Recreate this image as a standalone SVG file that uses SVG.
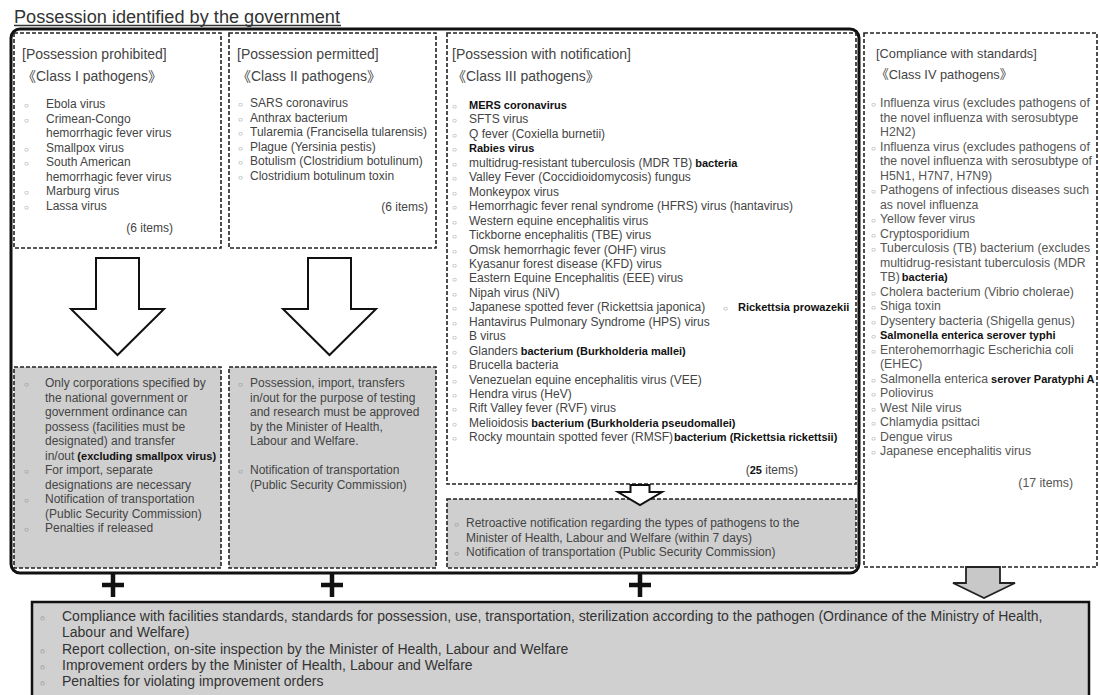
<svg xmlns="http://www.w3.org/2000/svg" width="1100" height="695" viewBox="0 0 1100 695">
<style>
text{font-family:"Liberation Sans","Noto Sans CJK JP",Arial,sans-serif}
.ttl{font-size:17.5px;fill:#333}
.hdr{font-size:14px;fill:#444}
.hdr4{font-size:12.8px;fill:#444}
.it{font-size:12px;fill:#444}
.it4{font-size:12.3px;fill:#555}
.b{font-weight:bold;font-size:11px;fill:#111}
.bul{font-size:8px;fill:#777}
.dash{fill:none;stroke:#222;stroke-width:1.6;stroke-dasharray:4 2}
.grayfill{fill:#cfcfcf}
.arw{fill:#fff;stroke:#111;stroke-width:2;stroke-linejoin:miter}
.plus{stroke:#111;stroke-width:4.5;fill:none}
.bt{font-size:14px;fill:#333}
</style>
<rect width="1100" height="695" fill="#fff"/>

<g id="title">
<text class="ttl" x="14" y="23" textLength="326" lengthAdjust="spacingAndGlyphs">Possession identified by the government</text>
<line x1="14" y1="25.5" x2="341" y2="25.5" stroke="#333" stroke-width="1.3"/>
</g>

<g id="outer-frame">
<rect x="11" y="29" width="848" height="544" rx="9" fill="none" stroke="#111" stroke-width="3"/>
</g>

<g id="class1">
<rect class="dash" x="14" y="33" width="207" height="215"/>
<text class="hdr" x="22" y="59">[Possession prohibited]</text>
<text class="hdr" x="22" y="81">《Class I pathogens》</text>
<text class="bul"><tspan x="24" y="108">○</tspan><tspan x="24" y="122.5">○</tspan><tspan x="24" y="151.5">○</tspan><tspan x="24" y="166">○</tspan><tspan x="24" y="195">○</tspan><tspan x="24" y="209.5">○</tspan></text>
<text class="it"><tspan x="46" y="108">Ebola virus</tspan><tspan x="46" y="122.5">Crimean-Congo</tspan><tspan x="46" y="137">hemorrhagic fever virus</tspan><tspan x="46" y="151.5">Smallpox virus</tspan><tspan x="46" y="166">South American</tspan><tspan x="46" y="180.5">hemorrhagic fever virus</tspan><tspan x="46" y="195">Marburg virus</tspan><tspan x="46" y="209.5">Lassa virus</tspan></text>
<text class="it" x="173" y="232" text-anchor="end">(6 items)</text>
</g>

<g id="class2">
<rect class="dash" x="229" y="33" width="207" height="215"/>
<text class="hdr" x="237" y="59">[Possession permitted]</text>
<text class="hdr" x="237" y="81">《Class II pathogens》</text>
<text class="bul"><tspan x="238" y="107">○</tspan><tspan x="238" y="121.5">○</tspan><tspan x="238" y="136">○</tspan><tspan x="238" y="150.5">○</tspan><tspan x="238" y="165">○</tspan><tspan x="238" y="179.5">○</tspan></text>
<text class="it"><tspan x="250" y="107">SARS coronavirus</tspan><tspan x="250" y="121.5">Anthrax bacterium</tspan><tspan x="250" y="136">Tularemia (Francisella tularensis)</tspan><tspan x="250" y="150.5">Plague (Yersinia pestis)</tspan><tspan x="250" y="165">Botulism (Clostridium botulinum)</tspan><tspan x="250" y="179.5">Clostridium botulinum toxin</tspan></text>
<text class="it" x="428" y="211" text-anchor="end">(6 items)</text>
</g>

<g id="class3">
<rect class="dash" x="447" y="33" width="409" height="451"/>
<text class="hdr" x="452" y="59">[Possession with notification]</text>
<text class="hdr" x="452" y="81">《Class III pathogens》</text>
<text class="bul"><tspan x="452" y="109">○</tspan><tspan x="452" y="123.45">○</tspan><tspan x="452" y="137.9">○</tspan><tspan x="452" y="152.35">○</tspan><tspan x="452" y="166.8">○</tspan><tspan x="452" y="181.25">○</tspan><tspan x="452" y="195.7">○</tspan><tspan x="452" y="210.15">○</tspan><tspan x="452" y="224.6">○</tspan><tspan x="452" y="239.05">○</tspan><tspan x="452" y="253.5">○</tspan><tspan x="452" y="267.95">○</tspan><tspan x="452" y="282.4">○</tspan><tspan x="452" y="296.85">○</tspan><tspan x="452" y="311.3">○</tspan><tspan x="452" y="325.75">○</tspan><tspan x="452" y="340.2">○</tspan><tspan x="452" y="354.65">○</tspan><tspan x="452" y="369.1">○</tspan><tspan x="452" y="383.55">○</tspan><tspan x="452" y="398">○</tspan><tspan x="452" y="412.45">○</tspan><tspan x="452" y="426.9">○</tspan><tspan x="452" y="441.35">○</tspan></text>
<text class="b" x="469" y="109">MERS coronavirus</text>
<text class="it" x="469" y="123.45">SFTS virus</text>
<text class="it" x="469" y="137.9">Q fever (Coxiella burnetii)</text>
<text class="b" x="469" y="152.35">Rabies virus</text>
<text class="it" x="469" y="166.8">multidrug-resistant tuberculosis (MDR TB)<tspan class="b" dx="3">bacteria</tspan></text>
<text class="it" x="469" y="181.25">Valley Fever (Coccidioidomycosis) fungus</text>
<text class="it" x="469" y="195.7">Monkeypox virus</text>
<text class="it" x="469" y="210.15">Hemorrhagic fever renal syndrome (HFRS) virus (hantavirus)</text>
<text class="it" x="469" y="224.6">Western equine encephalitis virus</text>
<text class="it" x="469" y="239.05">Tickborne encephalitis (TBE) virus</text>
<text class="it" x="469" y="253.5">Omsk hemorrhagic fever (OHF) virus</text>
<text class="it" x="469" y="267.95">Kyasanur forest disease (KFD) virus</text>
<text class="it" x="469" y="282.4">Eastern Equine Encephalitis (EEE) virus</text>
<text class="it" x="469" y="296.85">Nipah virus (NiV)</text>
<text class="it" x="469" y="311.3">Japanese spotted fever (Rickettsia japonica)</text>
<text class="bul" x="723" y="311.3">○</text>
<text class="b" x="738" y="311.3">Rickettsia prowazekii</text>
<text class="it" x="469" y="325.75">Hantavirus Pulmonary Syndrome (HPS) virus</text>
<text class="it" x="469" y="340.2">B virus</text>
<text class="it" x="469" y="354.65">Glanders<tspan class="b" dx="3">bacterium (Burkholderia mallei)</tspan></text>
<text class="it" x="469" y="369.1">Brucella bacteria</text>
<text class="it" x="469" y="383.55">Venezuelan equine encephalitis virus (VEE)</text>
<text class="it" x="469" y="398">Hendra virus (HeV)</text>
<text class="it" x="469" y="412.45">Rift Valley fever (RVF) virus</text>
<text class="it" x="469" y="426.9">Melioidosis<tspan class="b" dx="3">bacterium (Burkholderia pseudomallei)</tspan></text>
<text class="it" x="469" y="441.35">Rocky mountain spotted fever (RMSF)<tspan class="b" dx="1">bacterium (Rickettsia rickettsii)</tspan></text>
<text class="it" x="798" y="474" text-anchor="end">(<tspan class="b">25</tspan> items)</text>
</g>

<g id="class4">
<rect class="dash" x="864" y="33" width="233" height="534"/>
<text class="hdr4" x="876" y="58">[Compliance with standards]</text>
<text class="hdr4" x="876" y="79">《Class IV pathogens》</text>
<text class="bul"><tspan x="871" y="107">○</tspan><tspan x="871" y="150.5">○</tspan><tspan x="871" y="194">○</tspan><tspan x="871" y="223">○</tspan><tspan x="871" y="237.5">○</tspan><tspan x="871" y="252">○</tspan><tspan x="871" y="295.5">○</tspan><tspan x="871" y="310">○</tspan><tspan x="871" y="324.5">○</tspan><tspan x="871" y="339">○</tspan><tspan x="871" y="353.5">○</tspan><tspan x="871" y="382.5">○</tspan><tspan x="871" y="397">○</tspan><tspan x="871" y="411.5">○</tspan><tspan x="871" y="426">○</tspan><tspan x="871" y="440.5">○</tspan><tspan x="871" y="455">○</tspan></text>
<text class="it4"><tspan x="880" y="107">Influenza virus (excludes pathogens of</tspan><tspan x="880" y="121.5">the novel influenza  with serosubtype</tspan><tspan x="880" y="136">H2N2)</tspan><tspan x="880" y="150.5">Influenza virus (excludes pathogens of</tspan><tspan x="880" y="165">the novel influenza  with serosubtype of</tspan><tspan x="880" y="179.5">H5N1, H7N7, H7N9)</tspan><tspan x="880" y="194">Pathogens of infectious diseases such</tspan><tspan x="880" y="208.5">as novel influenza</tspan><tspan x="880" y="223">Yellow fever virus</tspan><tspan x="880" y="237.5">Cryptosporidium</tspan><tspan x="880" y="252">Tuberculosis (TB) bacterium (excludes</tspan><tspan x="880" y="266.5">multidrug-resistant tuberculosis (MDR</tspan><tspan x="880" y="281">TB)<tspan class="b" dx="2">bacteria)</tspan></tspan><tspan x="880" y="295.5">Cholera bacterium (Vibrio cholerae)</tspan><tspan x="880" y="310">Shiga toxin</tspan><tspan x="880" y="324.5">Dysentery bacteria (Shigella genus)</tspan><tspan x="880" y="353.5">Enterohemorrhagic Escherichia coli</tspan><tspan x="880" y="368">(EHEC)</tspan><tspan x="880" y="382.5">Salmonella enterica<tspan class="b" dx="3">serover Paratyphi A</tspan></tspan><tspan x="880" y="397">Poliovirus</tspan><tspan x="880" y="411.5">West Nile virus</tspan><tspan x="880" y="426">Chlamydia psittaci</tspan><tspan x="880" y="440.5">Dengue virus</tspan><tspan x="880" y="455">Japanese encephalitis virus</tspan></text>
<text class="b" x="880" y="339">Salmonella enterica serover typhi</text>
<text class="it4" x="1073" y="487" text-anchor="end">(17 items)</text>
</g>

<g id="class1-rules">
<rect class="grayfill" x="14" y="367" width="207" height="201"/>
<rect class="dash" x="14" y="367" width="207" height="201"/>
<text class="bul"><tspan x="24" y="387">○</tspan><tspan x="24" y="474">○</tspan><tspan x="24" y="503">○</tspan><tspan x="24" y="532">○</tspan></text>
<text class="it"><tspan x="45" y="387">Only corporations specified by</tspan><tspan x="45" y="401.5">the national government or</tspan><tspan x="45" y="416">government ordinance can</tspan><tspan x="45" y="430.5">possess (facilities must be</tspan><tspan x="45" y="445">designated) and transfer</tspan><tspan x="45" y="459.5">in/out<tspan class="b" dx="3">(excluding smallpox virus)</tspan></tspan><tspan x="45" y="474">For import, separate</tspan><tspan x="45" y="488.5">designations are necessary</tspan><tspan x="45" y="503">Notification of transportation</tspan><tspan x="45" y="517.5">(Public Security Commission)</tspan><tspan x="45" y="532">Penalties if released</tspan></text>
</g>

<g id="class2-rules">
<rect class="grayfill" x="229" y="367" width="207" height="201"/>
<rect class="dash" x="229" y="367" width="207" height="201"/>
<text class="bul"><tspan x="238" y="387">○</tspan><tspan x="238" y="474">○</tspan></text>
<text class="it"><tspan x="250" y="387">Possession, import, transfers</tspan><tspan x="250" y="401.5">in/out for the purpose of testing</tspan><tspan x="250" y="416">and research must be approved</tspan><tspan x="250" y="430.5">by the Minister of Health,</tspan><tspan x="250" y="445">Labour and Welfare.</tspan><tspan x="250" y="474">Notification of transportation</tspan><tspan x="250" y="488.5">(Public Security Commission)</tspan></text>
</g>

<g id="class3-rules">
<rect class="grayfill" x="447" y="499" width="409" height="69"/>
<rect class="dash" x="447" y="499" width="409" height="69"/>
<text class="bul"><tspan x="454" y="527">○</tspan><tspan x="454" y="556">○</tspan></text>
<text class="it"><tspan x="466" y="527">Retroactive notification regarding the types of pathogens to the</tspan><tspan x="466" y="541.5">Minister of Health, Labour and Welfare (within 7 days)</tspan><tspan x="466" y="556">Notification of transportation (Public Security Commission)</tspan></text>
</g>

<g id="common-rules">
<rect x="32" y="602" width="1057" height="100" fill="#d0d0d0" stroke="#111" stroke-width="2.5"/>
<text class="bul" style="font-size:8.5px"><tspan x="40" y="621">○</tspan><tspan x="40" y="654">○</tspan><tspan x="40" y="670">○</tspan><tspan x="40" y="686">○</tspan></text>
<text class="bt"><tspan x="62" y="621">Compliance with facilities standards, standards for possession, use, transportation, sterilization according to the pathogen (Ordinance of the Ministry of Health,</tspan><tspan x="62" y="637">Labour and Welfare)</tspan><tspan x="62" y="654">Report collection, on-site inspection by the Minister of Health, Labour and Welfare</tspan><tspan x="62" y="670">Improvement orders by the Minister of Health, Labour and Welfare</tspan><tspan x="62" y="686">Penalties for violating improvement orders</tspan></text>
</g>

<g id="connectors">
<path class="arw" d="M96 258 H139 V309 H164 L117.5 355 L71 309 H96 Z"/>
<path class="arw" d="M308 258 H351 V309 H376 L329.5 355 L283 309 H308 Z"/>
<path class="arw" d="M630.5 485 H649.5 V492 H662 L640 505 L618 492 H630.5 Z"/>
<path d="M966 567 H1000 V583 H1015 L984 598 L953 583 H966 Z" fill="#c8c8c8" stroke="#222" stroke-width="1.8"/>
<path class="plus" d="M102 585 H124 M113 574 V597"/>
<path class="plus" d="M321 585 H343 M332 574 V597"/>
<path class="plus" d="M629 585 H651 M640 574 V597"/>
</g>
</svg>
